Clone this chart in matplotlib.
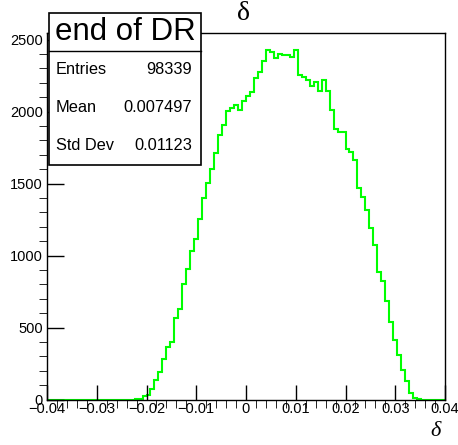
import numpy as np
import matplotlib
matplotlib.use("Agg")
import matplotlib.pyplot as plt
from matplotlib.patches import Rectangle
from matplotlib.lines import Line2D
from matplotlib.ticker import MultipleLocator

# histogram: 100 bins from -0.04 to 0.04
x_lo, x_hi, n_bins = -0.04, 0.04, 100
counts = [0] * 22 + [
    2, 5, 24, 32, 74, 134, 192, 278, 363, 400,
    567, 630, 804, 908, 1030, 1113, 1254, 1400, 1502, 1599,
    1712, 1840, 1909, 2004, 2028, 2048, 2013, 2075, 2112, 2133,
    2234, 2278, 2355, 2425, 2413, 2370, 2400, 2392, 2392, 2377,
    2425, 2253, 2239, 2217, 2175, 2208, 2145, 2223, 2145, 2013,
    1881, 1856, 1856, 1738, 1722, 1662, 1470, 1407, 1315, 1190,
    1072, 886, 826, 683, 539, 410, 308, 204, 127, 46,
    12, 2,
] + [0] * 6

stat_names = ["Entries", "Mean", "Std Dev"]
stat_values = ["98339", "0.007497", "0.01123"]
hist_name = "end of DR"

W, H = 458, 445
plt.rcParams["font.family"] = ["Liberation Sans", "DejaVu Sans"]

fig = plt.figure(figsize=(W / 100, H / 100), dpi=100)
fx = lambda px: px / W
fy = lambda py: 1 - py / H

ax = fig.add_axes([fx(47), fy(399.5), fx(445) - fx(47), fy(33) - fy(399.5)])
edges = np.linspace(x_lo, x_hi, n_bins + 1)
ax.stairs(counts, edges, color=(0, 1, 0), lw=1.5, baseline=None)

ax.set_xlim(x_lo, x_hi)
ax.set_ylim(0, max(counts) * 1.05)
ax.xaxis.set_major_locator(MultipleLocator(0.01))
ax.xaxis.set_minor_locator(MultipleLocator(0.002))
ax.yaxis.set_major_locator(MultipleLocator(500))
ax.yaxis.set_minor_locator(MultipleLocator(100))
ax.set_xticklabels([f"{v:g}".replace("-", "\u2212") for v in ax.get_xticks()])
ax.tick_params(direction="in", labelsize=10.5, width=1, color="black")
ax.tick_params(axis="x", which="major", length=11, pad=2)
ax.tick_params(axis="x", which="minor", length=5.5)
ax.tick_params(axis="y", which="major", length=12, pad=3)
ax.tick_params(axis="y", which="minor", length=6)
for s in ax.spines.values():
    s.set_linewidth(1)

# axis titles
fig.text(fx(244), fy(14), "\u03b4", fontsize=20, family="Liberation Serif",
         ha="center", va="center")
fig.text(fx(436), fy(432), "\u03b4", fontsize=16, family="Liberation Serif",
         style="italic", ha="center", va="center")

# stats box
bl, br, bt, bb, bsep = 49, 201, 13, 165, 50.7
fig.add_artist(Rectangle((fx(bl), fy(bb)), fx(br) - fx(bl), fy(bt) - fy(bb),
                         transform=fig.transFigure, facecolor="white",
                         edgecolor="black", lw=1.2, zorder=5))
fig.add_artist(Line2D([fx(bl), fx(br)], [fy(bsep), fy(bsep)],
                      transform=fig.transFigure, color="black", lw=1, zorder=6))
fig.text(fx((bl + br) / 2), fy(32), hist_name, fontsize=22.5, ha="center",
         va="center", zorder=7)
for i, (name, val) in enumerate(zip(stat_names, stat_values)):
    yy = 70 + i * 37.8
    fig.text(fx(56), fy(yy), name, fontsize=11.8, ha="left", va="center", zorder=7)
    fig.text(fx(192), fy(yy), val, fontsize=11.8, ha="right", va="center", zorder=7)

fig.savefig("out.png", dpi=100)
